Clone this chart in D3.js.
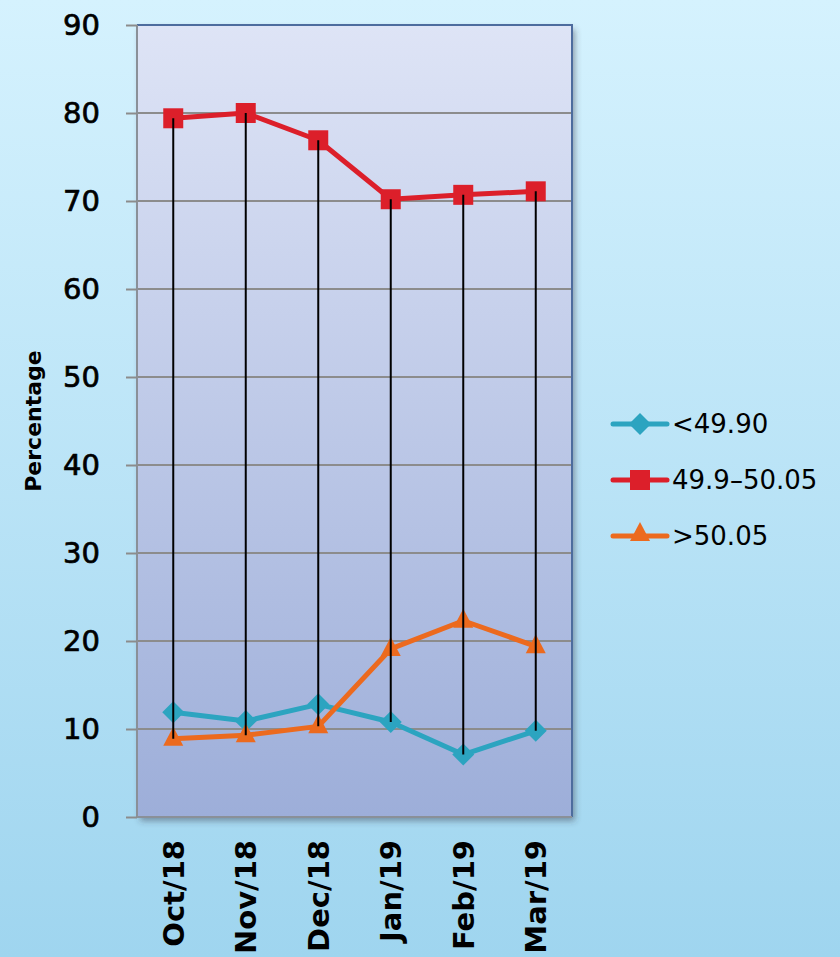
<!DOCTYPE html>
<html>
<head>
<meta charset="utf-8">
<script src="https://cdn.jsdelivr.net/npm/d3@7"></script>
<style>
  html, body { margin: 0; padding: 0; }
  body { width: 840px; height: 957px; overflow: hidden; }
  text { font-family: "DejaVu Sans", "Noto Sans", sans-serif; fill: #000; }
</style>
</head>
<body>
<div id="chart"></div>
<script>
var categories = ["Oct/18", "Nov/18", "Dec/18", "Jan/19", "Feb/19", "Mar/19"];
var seriesNames = ["<49.90", "49.9\u201350.05", ">50.05"];
var below = [11.9, 10.9, 12.8, 10.8, 7.1, 9.8];
var within = [79.4, 80.0, 76.9, 70.2, 70.7, 71.1];
var above = [8.9, 9.3, 10.3, 19.1, 22.3, 19.4];
var yTicks = [0, 10, 20, 30, 40, 50, 60, 70, 80, 90];

var width = 840, height = 957;
var plot = {left: 137, right: 572, top: 25, bottom: 817};

var series = [
  {name: seriesNames[0], values: below, color: "#2ca4c0", marker: "diamond"},
  {name: seriesNames[1], values: within, color: "#dc1f2a", marker: "square"},
  {name: seriesNames[2], values: above, color: "#ec6a1e", marker: "triangle"}
];

var svg = d3.select("#chart").append("svg")
  .attr("width", width)
  .attr("height", height);

var defs = svg.append("defs");
var bg = defs.append("linearGradient").attr("id", "bg").attr("x1", 0).attr("y1", 0).attr("x2", 0).attr("y2", 1);
bg.append("stop").attr("offset", "0%").attr("stop-color", "#d5f2fe");
bg.append("stop").attr("offset", "100%").attr("stop-color", "#9fd5ef");
var pg = defs.append("linearGradient").attr("id", "pg").attr("x1", 0).attr("y1", 0).attr("x2", 0).attr("y2", 1);
pg.append("stop").attr("offset", "0%").attr("stop-color", "#dee4f6");
pg.append("stop").attr("offset", "100%").attr("stop-color", "#9daed9");
var sh = defs.append("filter").attr("id", "shadow").attr("x", "-5%").attr("y", "-5%").attr("width", "115%").attr("height", "115%");
sh.append("feDropShadow").attr("dx", 3).attr("dy", 4).attr("stdDeviation", 3)
  .attr("flood-color", "#334").attr("flood-opacity", 0.45);

svg.append("rect").attr("width", width).attr("height", height).attr("fill", "url(#bg)");

var x = d3.scalePoint().domain(categories).range([plot.left, plot.right]).padding(0.5);
var y = d3.scaleLinear().domain([0, 90]).range([plot.bottom, plot.top]);

// plot area
svg.append("rect")
  .attr("x", plot.left).attr("y", plot.top)
  .attr("width", plot.right - plot.left).attr("height", plot.bottom - plot.top)
  .attr("fill", "url(#pg)")
  .attr("filter", "url(#shadow)");

// gridlines
svg.append("g").selectAll("line")
  .data(yTicks.filter(function(d){ return d > 0 && d < 90; }))
  .enter().append("line")
  .attr("x1", plot.left).attr("x2", plot.right)
  .attr("y1", function(d){ return y(d); }).attr("y2", function(d){ return y(d); })
  .attr("stroke", "#8c8c8c").attr("stroke-width", 2);

// borders: top/right blue, left/bottom gray
svg.append("path")
  .attr("d", "M" + plot.left + "," + plot.top + "H" + plot.right + "V" + plot.bottom)
  .attr("fill", "none").attr("stroke", "#4d6c9e").attr("stroke-width", 2);
svg.append("path")
  .attr("d", "M" + plot.left + "," + plot.top + "V" + plot.bottom + "H" + plot.right)
  .attr("fill", "none").attr("stroke", "#8a9098").attr("stroke-width", 2);

// y axis
var yAxis = d3.axisLeft(y).tickValues(yTicks).tickSize(11).tickPadding(26);
var gy = svg.append("g").attr("transform", "translate(" + plot.left + ",0)").call(yAxis);
gy.select(".domain").remove();
gy.selectAll(".tick line").attr("stroke", "#8c8c8c").attr("stroke-width", 2);
gy.selectAll(".tick text")
  .style("font-size", "29px").style("font-weight", "normal")
  .attr("fill", "#000").attr("stroke", "#000").attr("stroke-width", 0.7);

// x axis labels
var xAxis = d3.axisBottom(x).tickSize(0).tickPadding(0);
var gx = svg.append("g").attr("transform", "translate(0," + plot.bottom + ")").call(xAxis);
gx.select(".domain").remove();
gx.selectAll(".tick text")
  .attr("transform", "rotate(-90)")
  .attr("x", -23).attr("y", 0).attr("dy", "0.35em")
  .style("text-anchor", "end")
  .style("font-size", "29px").style("font-weight", "bold")
  .attr("fill", "#000");

// y title
svg.append("text")
  .attr("transform", "translate(41,421) rotate(-90)")
  .style("text-anchor", "middle")
  .style("font-size", "22px").style("font-weight", "bold")
  .text("Percentage");

// series lines
var line = d3.line()
  .x(function(d, i){ return x(categories[i]); })
  .y(function(d){ return y(d); });

svg.append("g").selectAll("path")
  .data(series).enter().append("path")
  .attr("d", function(s){ return line(s.values); })
  .attr("fill", "none")
  .attr("stroke", function(s){ return s.color; })
  .attr("stroke-width", 5)
  .attr("stroke-linejoin", "round");

function markerPath(type, cx, cy) {
  if (type === "square") return "M" + (cx - 10) + "," + (cy - 10) + "h20v20h-20z";
  if (type === "diamond") return "M" + cx + "," + (cy - 11) + "L" + (cx + 11) + "," + cy + "L" + cx + "," + (cy + 11) + "L" + (cx - 11) + "," + cy + "Z";
  return "M" + cx + "," + (cy - 12) + "L" + (cx + 10) + "," + (cy + 7) + "L" + (cx - 10) + "," + (cy + 7) + "Z";
}

series.forEach(function(s){
  svg.append("g").selectAll("path")
    .data(s.values).enter().append("path")
    .attr("d", function(d, i){ return markerPath(s.marker, x(categories[i]), y(d)); })
    .attr("fill", s.color);
});

// high-low lines
svg.append("g").selectAll("line")
  .data(categories).enter().append("line")
  .attr("x1", function(c){ return x(c); }).attr("x2", function(c){ return x(c); })
  .attr("y1", function(c, i){ return y(d3.max(series, function(s){ return s.values[i]; })); })
  .attr("y2", function(c, i){ return y(d3.min(series, function(s){ return s.values[i]; })); })
  .attr("stroke", "#000").attr("stroke-width", 2);

// legend
var legend = svg.append("g").attr("transform", "translate(613,424)");
var item = legend.selectAll("g").data(series).enter().append("g")
  .attr("transform", function(d, i){ return "translate(0," + (i * 56) + ")"; });
item.append("line")
  .attr("x1", 0).attr("x2", 54).attr("y1", 0).attr("y2", 0)
  .attr("stroke", function(d){ return d.color; })
  .attr("stroke-width", 5).attr("stroke-linecap", "round");
item.append("path")
  .attr("d", function(d){ return markerPath(d.marker, 27, d.marker === "triangle" ? -2 : 0); })
  .attr("fill", function(d){ return d.color; });
item.append("text")
  .attr("x", 59).attr("y", 0).attr("dy", "0.35em")
  .style("font-size", "26px")
  .text(function(d){ return d.name; });
</script>
</body>
</html>
